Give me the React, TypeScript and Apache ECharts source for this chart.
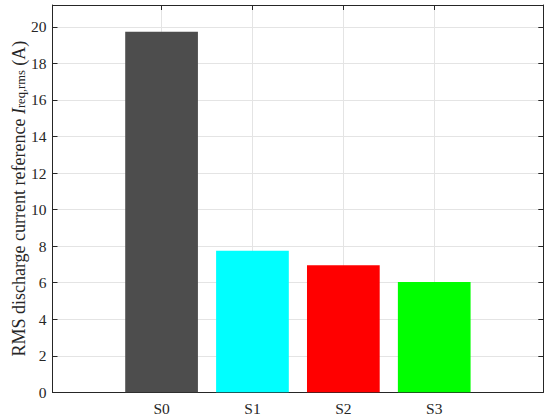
import React, { useEffect, useRef } from 'react';
import * as echarts from 'echarts';

const categories = ['S0', 'S1', 'S2', 'S3'];
const values = [19.73, 7.75, 6.95, 6.04];
const barColors = ['#4d4d4d', '#00ffff', '#ff0000', '#00ff00'];
const yMin = 0;
const yMax = 21.2;
const yInterval = 2;
const xMin = -1.2;
const xMax = 4.2;

export default function App() {
  const ref = useRef<HTMLDivElement>(null);
  useEffect(() => {
    const chart = echarts.init(ref.current as HTMLDivElement, null, { renderer: 'svg' });
    const positions = categories.map((_, i) => i);
    const axisColor = '#262626';
    const gridColor = '#e4e4e4';
    const font = 'Liberation Serif';
    const tickFont = { fontFamily: font, fontSize: 15.5, color: axisColor };
    const gridLeft = 52.5;
    const gridRight = 6.7;
    const plotW = 550 - gridLeft - gridRight;
    const unit = plotW / (xMax - xMin);
    const lineStyle = { color: axisColor, width: 1 };
    chart.setOption({
      animation: false,
      backgroundColor: '#ffffff',
      grid: {
        left: gridLeft, right: gridRight, top: 5, bottom: 26.7,
        containLabel: false, outerBoundsMode: 'none',
      },
      xAxis: [
        {
          type: 'value', min: xMin, max: xMax, position: 'bottom',
          axisLine: { show: true, onZero: false, lineStyle },
          axisTick: { show: true, inside: true, length: 5, customValues: positions, lineStyle },
          axisLabel: {
            show: true, customValues: positions, margin: 8, ...tickFont,
            formatter: (v: number) => categories[Math.round(v)] ?? '',
          },
          splitLine: { show: true, lineStyle: { color: gridColor, width: 1 } },
        },
        {
          type: 'value', min: xMin, max: xMax, position: 'top',
          axisLine: { show: true, onZero: false, lineStyle },
          axisTick: { show: true, inside: true, length: 5, customValues: positions, lineStyle },
          axisLabel: { show: false },
          splitLine: { show: false },
        },
      ],
      yAxis: [
        {
          type: 'value', min: yMin, max: yMax, interval: yInterval, position: 'left',
          axisLine: { show: true, onZero: false, lineStyle },
          axisTick: { show: true, inside: true, length: 5, lineStyle },
          axisLabel: { show: true, margin: 6, showMaxLabel: false, ...tickFont },
          splitLine: { show: true, lineStyle: { color: gridColor, width: 1 } },
          name: '{n|RMS discharge current reference }{i|I}{s|req,rms}{n| (A)}',
          nameLocation: 'middle',
          nameRotate: 90,
          nameGap: 25,
          nameMoveOverlap: false,
          nameTextStyle: {
            fontFamily: font, fontSize: 18, color: axisColor,
            rich: {
              n: { fontFamily: font, fontSize: 18, color: axisColor },
              i: { fontFamily: font, fontSize: 18, fontStyle: 'italic', color: axisColor },
              s: { fontFamily: font, fontSize: 12.5, color: axisColor, verticalAlign: 'bottom', lineHeight: 12 },
            },
          },
        },
        {
          type: 'value', min: yMin, max: yMax, interval: yInterval, position: 'right',
          axisLine: { show: true, onZero: false, lineStyle },
          axisTick: { show: true, inside: true, length: 5, lineStyle },
          axisLabel: { show: false },
          splitLine: { show: false },
        },
      ],
      series: [
        {
          type: 'bar',
          xAxisIndex: 0,
          yAxisIndex: 0,
          barWidth: unit * 0.8,
          data: positions.map((p, i) => ({ value: [p, values[i]], itemStyle: { color: barColors[i] } })),
        },
      ],
    });
    return () => chart.dispose();
  }, []);
  return <div ref={ref} style={{ position: 'fixed', left: 0, top: 0, width: 550, height: 419 }} />;
}
